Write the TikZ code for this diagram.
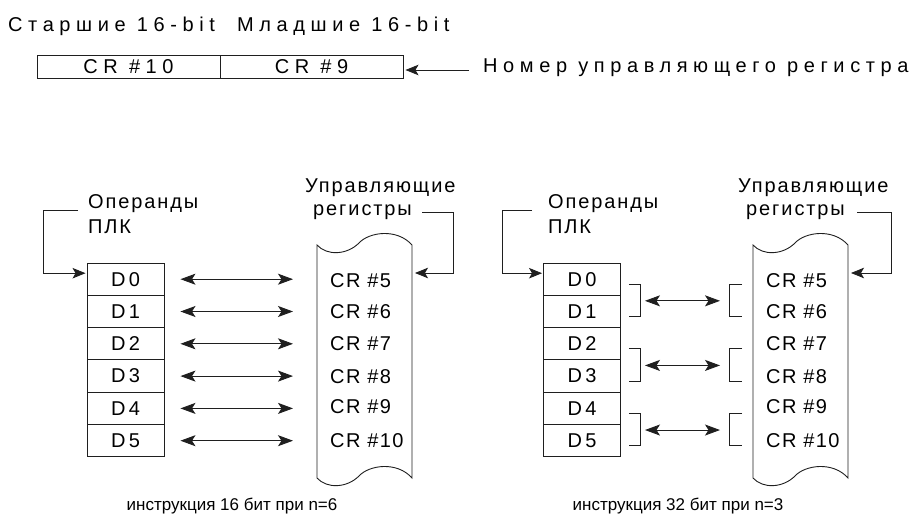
\documentclass[tikz,border=0pt]{standalone}
\usepackage{fontspec}
\setmainfont{Liberation Sans}
\newfontfamily\spA[LetterSpace=28]{Liberation Sans}
\newfontfamily\spB[LetterSpace=9.5]{Liberation Sans}
\newfontfamily\spC[LetterSpace=17]{Liberation Sans}
\newfontfamily\spD[LetterSpace=7]{Liberation Sans}
\newcommand\fsN{\fontsize{20}{23}\selectfont}
\newcommand\fsC{\fontsize{17}{20}\selectfont}
\usetikzlibrary{arrows.meta}
\tikzset{
  ln/.style={line width=0.9pt, draw=black!88},
  dbl/.style={ln, {Stealth[length=15pt,width=11pt,inset=3.5pt]}-{Stealth[length=15pt,width=11pt,inset=3.5pt]}},
  sarr/.style={ln, -{Stealth[length=13pt,width=10.5pt,inset=3pt]}},
  dbox/.style={draw=black!88, line width=0.95pt, minimum width=77pt, minimum height=32.3pt, inner sep=0pt, font=\spC\fsN},
  topbox/.style={draw=black!88, line width=0.95pt, minimum width=183pt, minimum height=23.3pt, inner sep=0pt, font=\spA\fsN},
  toplab/.style={inner sep=0pt, anchor=base west, font=\spA\fsN},
  lab/.style={inner sep=0pt, anchor=base west, font=\spB\fsN},
  crlab/.style={inner sep=0pt, anchor=base west, font=\spD\fsN},
  caplab/.style={inner sep=0pt, anchor=base, font=\fsC},
}
\begin{document}
\begin{tikzpicture}[x=1pt,y=-1pt]
\useasboundingbox (0,0) rectangle (913,524);

% ---------- top row ----------
\node[toplab] (hi) at (8,32) {Старшие 16-bit};
\node[toplab] (lo) at (237,32) {Младшие 16-bit};
\node[topbox] (t10) at (128.5,66.7) {CR \#10};
\node[topbox] (t9) at (311.5,66.7) {CR \#9};
\node[toplab] (num) at (483,73) {Номер управляющего регистра};
\coordinate (numS) at (469,70);
\draw[sarr] (numS) -- ([xshift=2pt,yshift=-3.3pt]t9.east);

% ---------- left section ----------
\foreach \i in {0,...,5}
  \node[dbox] (ld\i) at (125.5,{279.2+32.3*\i}) {D\i};
\begin{scope}[shift={(317,0)}]
\draw[ln] (0,245) .. controls (10,256) and (30,255) .. (42,243)
  .. controls (52,232) and (80,228) .. (95,245) -- (95,478)
  .. controls (80,461) and (52,465) .. (42,476)
  .. controls (30,488) and (10,489) .. (0,478) -- cycle;
\end{scope}
\coordinate (ltL) at (317,273);
\coordinate (ltR) at (412,273);
\foreach \n/\b in {5/287,6/318,7/350,8/383,9/413,10/447}
  \node[crlab] (lcr\n) at (330,\b) {CR \#\n};
\foreach \i/\n in {0/5,1/6,2/7,3/8,4/9,5/10}
  \draw[dbl] ([xshift=16pt]ld\i.east) -- ([xshift=-24pt]ld\i.east -| ltL);

\node[lab] (lop) at (88,208) {Операнды};
\node[lab] (lplk) at (88,233) {ПЛК};
\node[lab] (lupr) at (305,192) {Управляющие};
\node[lab] (lreg) at (313,215) {регистры};
\coordinate (lopS) at (78,210);
\coordinate (lregS) at (422,212);
\draw[sarr] (lopS) -| ([xshift=-43pt,yshift=6pt]ld0.west) -- ([xshift=-1pt,yshift=6pt]ld0.west);
\draw[sarr] (lregS) -| ([xshift=41pt]ltR) -- ([xshift=3pt]ltR);

\node[caplab] (lcap) at (232,510) {инструкция 16 бит при n=6};

% ---------- right section ----------
\foreach \i in {0,...,5}
  \node[dbox] (rd\i) at (582,{279.2+32.3*\i}) {D\i};
\begin{scope}[shift={(753,0)}]
\draw[ln] (0,245) .. controls (10,256) and (30,255) .. (42,243)
  .. controls (52,232) and (80,228) .. (95,245) -- (95,478)
  .. controls (80,461) and (52,465) .. (42,476)
  .. controls (30,488) and (10,489) .. (0,478) -- cycle;
\end{scope}
\coordinate (rtL) at (753,273);
\coordinate (rtR) at (848,273);
\foreach \n/\b in {5/287,6/318,7/350,8/383,9/413,10/447}
  \node[crlab] (rcr\n) at (766,\b) {CR \#\n};
\foreach \a/\b in {0/1,2/3,4/5}{
  \draw[ln] ([xshift=8pt,yshift=-5pt]rd\a.east) -- ([xshift=19pt,yshift=-5pt]rd\a.east)
    -- ([xshift=19pt,yshift=-5pt]rd\b.east) -- ([xshift=8pt,yshift=-5pt]rd\b.east);
  \draw[ln] ([xshift=-11pt,yshift=-5pt]rtL |- rd\a.center) -- ([xshift=-24pt,yshift=-5pt]rtL |- rd\a.center)
    -- ([xshift=-24pt,yshift=-5pt]rtL |- rd\b.center) -- ([xshift=-11pt,yshift=-5pt]rtL |- rd\b.center);
  \draw[dbl] ([xshift=24pt,yshift=-5pt]rd\a.south east) -- ([xshift=-33pt,yshift=-5pt]rtL |- rd\a.south east);
}

\node[lab] (rop) at (548,208) {Операнды};
\node[lab] (rplk) at (548,233) {ПЛК};
\node[lab] (rupr) at (738,192) {Управляющие};
\node[lab] (rreg) at (746,215) {регистры};
\coordinate (ropS) at (532,210);
\coordinate (rregS) at (857,212);
\draw[sarr] (ropS) -| ([xshift=-41pt,yshift=6pt]rd0.west) -- ([xshift=-1pt,yshift=6pt]rd0.west);
\draw[sarr] (rregS) -| ([xshift=43pt]rtR) -- ([xshift=3pt]rtR);

\node[caplab] (rcap) at (678,510) {инструкция 32 бит при n=3};
\end{tikzpicture}
\end{document}
